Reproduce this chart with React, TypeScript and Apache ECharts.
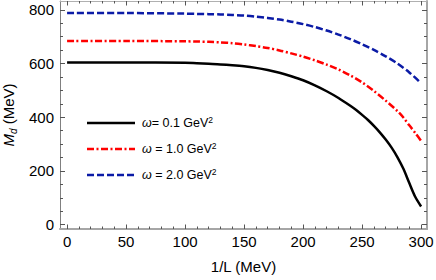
import React, { useEffect, useRef } from 'react';
import * as echarts from 'echarts';

const blackX = [0, 50, 100, 110, 120, 130, 140, 150, 160, 170, 180, 190, 200, 210, 220, 230, 240, 245, 250, 255, 260, 265, 270, 275, 280, 285, 290, 295, 300];
const blackValues = [604, 604, 603, 601, 599, 597, 594, 590, 584, 576, 566, 553, 538, 519, 497, 472, 443, 427, 409, 390, 368, 344, 317, 287, 251, 208, 155, 104, 68];
const redX = [0, 50, 100, 110, 120, 130, 140, 150, 160, 170, 180, 190, 200, 210, 220, 230, 240, 250, 260, 270, 280, 285, 290, 295, 300];
const redValues = [684, 684, 683, 682, 681, 679, 676, 671, 665, 658, 649, 638, 626, 612, 596, 578, 556, 530, 498, 462, 423, 399, 370, 342, 312];
const blueX = [0, 50, 100, 110, 120, 130, 140, 150, 160, 170, 180, 190, 200, 210, 220, 230, 240, 250, 260, 270, 280, 290, 300];
const blueValues = [788, 788, 786, 785, 784, 783, 781, 779, 775, 770, 764, 756, 747, 736, 723, 708, 691, 672, 651, 627, 600, 567, 527];

const xMajorTicks = [0, 50, 100, 150, 200, 250, 300];
const yMajorTicks = [0, 200, 400, 600, 800];
const xMinorStep = 10;
const yMinorStep = 50;

const legendLabels = ['0.1', '1.0', '2.0'];

const FONT = 'Liberation Sans, Arial, sans-serif';

function range(a: number, b: number, s: number) {
  const r: number[] = [];
  for (let v = a; v <= b + 1e-9; v += s) r.push(v);
  return r;
}

export default function App() {
  const ref = useRef<HTMLDivElement>(null);
  useEffect(() => {
    if (!ref.current) return;
    const chart = echarts.init(ref.current, undefined, { renderer: 'svg' });
    const xMinor = range(0, 300, xMinorStep);
    const yMinor = range(0, 800, yMinorStep);
    const X_MIN = -6, X_MAX = 305, Y_MIN = -16, Y_MAX = 833;
    const tickColor = '#555';
    const mk = (xs: number[], arr: number[]) => xs.map((x, i) => [x, arr[i]]);

    const xAxisBase = (position: 'bottom' | 'top', ticks: number[], len: number, showLabel: boolean, lineStyle: any, name?: string) => ({
      type: 'value',
      min: X_MIN,
      max: X_MAX,
      position,
      name,
      nameLocation: 'middle',
      nameGap: 30,
      nameTextStyle: { fontFamily: FONT, fontSize: 15, color: '#000' },
      axisLine: { show: !!lineStyle, onZero: false, lineStyle: lineStyle || {} },
      axisTick: { show: true, inside: true, length: len, customValues: ticks, lineStyle: { color: tickColor, width: 1 } },
      axisLabel: showLabel
        ? { show: true, customValues: ticks, fontFamily: FONT, fontSize: 15, color: '#000', margin: 5 }
        : { show: false },
      splitLine: { show: false },
    });
    const yAxisBase = (position: 'left' | 'right', ticks: number[], len: number, showLabel: boolean, lineStyle: any, name?: string) => ({
      type: 'value',
      min: Y_MIN,
      max: Y_MAX,
      position,
      name,
      nameLocation: 'middle',
      nameGap: 40,
      nameRotate: 90,
      nameTextStyle: {
        fontFamily: FONT,
        fontSize: 15,
        color: '#000',
        rich: {
          m: { fontFamily: FONT, fontSize: 15, fontStyle: 'italic', color: '#000', lineHeight: 20 },
          d: { fontFamily: FONT, fontSize: 10, fontStyle: 'italic', color: '#000', verticalAlign: 'bottom', lineHeight: 12 },
          t: { fontFamily: FONT, fontSize: 15, color: '#000', lineHeight: 20 },
        },
      },
      axisLine: { show: !!lineStyle, onZero: false, lineStyle: lineStyle || {} },
      axisTick: { show: true, inside: true, length: len, customValues: ticks, lineStyle: { color: tickColor, width: 1 } },
      axisLabel: showLabel
        ? { show: true, customValues: ticks, fontFamily: FONT, fontSize: 15, color: '#000', margin: 6 }
        : { show: false },
      splitLine: { show: false },
    });

    const colors = ['#000000', '#ff0000', '#0b1ba6'];
    const dashes: any[] = ['solid', [7, 2.5, 2, 2.5], [7, 3]];
    const legendY = [123, 149, 175];

    const graphic: any[] = [];
    legendLabels.forEach((lab, i) => {
      graphic.push({
        type: 'line',
        shape: { x1: 87, y1: legendY[i], x2: 135, y2: legendY[i] },
        style: { stroke: colors[i], lineWidth: 2.5, lineDash: i === 0 ? null : dashes[i] },
      });
      graphic.push({
        type: 'text',
        x: 142,
        y: legendY[i],
        style: {
          text: `{w|ω}{t|${i === 0 ? '' : ' '}= ${lab} GeV}{s|2}`,
          verticalAlign: 'middle',
          rich: {
            w: { fontFamily: FONT, fontSize: 12.5, fontStyle: 'italic', fill: '#000', lineHeight: 16 },
            t: { fontFamily: FONT, fontSize: 12.5, fill: '#000', lineHeight: 16 },
            s: { fontFamily: FONT, fontSize: 8.5, fill: '#000', verticalAlign: 'top', lineHeight: 9 },
          },
        },
      });
    });

    const seriesData = [mk(blackX, blackValues), mk(redX, redValues), mk(blueX, blueValues)];

    chart.setOption({
      animation: false,
      grid: { left: 60, right: 9, top: 1, bottom: 51, containLabel: false, outerBoundsMode: 'none' },
      xAxis: [
        xAxisBase('bottom', xMajorTicks, 4.5, true, { color: '#a6a6a6', width: 2 }, '1/L (MeV)'),
        xAxisBase('bottom', xMinor, 2.5, false, null),
        xAxisBase('top', xMajorTicks, 4.5, false, { color: '#b0b0b0', width: 1 }),
        xAxisBase('top', xMinor, 2.5, false, null),
      ],
      yAxis: [
        yAxisBase('left', yMajorTicks, 5, true, { color: '#808080', width: 1 }, '{m|M}{d|d}{t| (MeV)}'),
        yAxisBase('left', yMinor, 3, false, null),
        yAxisBase('right', yMajorTicks, 5, false, { color: '#a6a6a6', width: 2 }),
        yAxisBase('right', yMinor, 3, false, null),
      ],
      graphic,
      series: seriesData.map((d, i) => ({
        type: 'line',
        xAxisIndex: 0,
        yAxisIndex: 0,
        data: d,
        showSymbol: false,
        symbol: 'none',
        smooth: 0.3,
        lineStyle: { color: colors[i], width: 2.5, type: dashes[i] },
        z: 3,
      })),
    });
    return () => chart.dispose();
  }, []);
  return <div ref={ref} style={{ width: 436, height: 280, position: 'absolute', left: 0, top: 0 }} />;
}
